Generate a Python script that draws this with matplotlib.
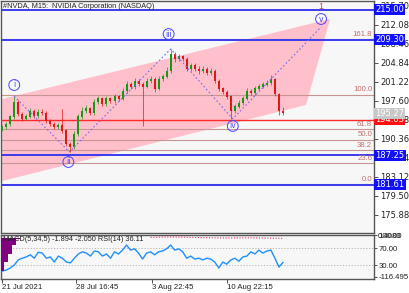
import numpy as np
import matplotlib
matplotlib.use("Agg")
import matplotlib.pyplot as plt
import matplotlib.transforms as mtrans

# M15 bars (one bar per 4 px)
closes = [192.6, 193.2, 194.6, 197.4, 195.1, 194.2, 194.6, 195.7, 194.7, 195.5,
          195.3, 193.8, 193.2, 192.6, 193.0, 191.9, 189.4, 188.8, 191.3, 194.6,
          195.7, 196.1, 195.3, 197.4, 198.0, 197.0, 198.0, 197.6, 198.4, 198.0,
          199.5, 200.8, 200.3, 201.4, 200.8, 200.3, 201.4, 201.8, 199.9, 201.8,
          202.2, 203.3, 206.4, 205.6, 206.0, 205.6, 203.7, 204.3, 203.7, 203.3,
          203.7, 202.9, 203.3, 201.4, 199.9, 199.3, 198.4, 195.7, 196.5, 197.2,
          198.0, 199.5, 199.1, 199.9, 200.3, 200.7, 201.0, 201.8, 198.9, 195.7,
          195.27]
highs = [193.0, 193.6, 195.0, 198.5, 197.8, 195.5, 195.2, 196.2, 196.0, 196.0,
         196.1, 195.6, 194.2, 193.6, 193.5, 196.0, 192.2, 189.8, 191.8, 195.2,
         196.4, 196.8, 196.5, 198.0, 198.6, 198.4, 198.5, 198.4, 198.9, 198.8,
         200.0, 201.4, 201.2, 202.0, 201.8, 201.2, 201.9, 202.3, 202.2, 202.3,
         202.8, 204.0, 207.5, 206.9, 206.6, 206.4, 205.9, 204.9, 204.8, 204.2,
         204.2, 204.0, 203.8, 203.6, 201.8, 200.3, 199.7, 198.8, 197.0, 197.7,
         198.5, 200.0, 199.9, 200.4, 200.8, 201.2, 201.6, 202.6, 202.0, 199.2,
         196.5]
lows = [191.8, 192.2, 192.9, 194.2, 194.8, 193.8, 193.9, 194.3, 194.3, 194.4,
        194.9, 193.4, 192.8, 192.2, 192.3, 191.5, 189.0, 187.9, 188.5, 191.0,
        194.2, 195.3, 195.0, 195.0, 197.0, 196.6, 196.7, 197.2, 197.2, 197.6,
        197.7, 199.2, 199.9, 199.9, 200.4, 192.8, 200.0, 201.0, 199.4, 199.6,
        201.4, 202.0, 203.0, 205.1, 205.2, 205.2, 203.3, 203.4, 203.3, 202.8,
        203.0, 202.5, 202.6, 201.0, 199.5, 198.9, 198.0, 194.2, 195.4, 196.2,
        196.9, 197.8, 198.7, 198.8, 199.6, 200.0, 200.4, 200.7, 198.6, 195.0,
        195.0]
first_open = 192.2

rsi = [16, 18, 23, 30, 42, 46, 49, 54, 46, 60, 58, 46, 49, 37, 51, 46, 37, 35,
       46, 56, 61, 58, 51, 63, 61, 51, 56, 46, 61, 56, 65, 77, 65, 68, 58, 44,
       58, 61, 54, 61, 63, 68, 77, 65, 68, 61, 46, 51, 44, 46, 42, 46, 44, 37,
       23, 37, 32, 42, 46, 39, 49, 51, 61, 56, 65, 58, 63, 65, 46, 25, 36.11]
macd_hist = [-100, -75, -48, -22, -4]
macd_signal = [0.9, 1.1, 1.4, 1.6, 1.8, 2.0, 1.9, 1.7, 1.5, 1.2, 0.9, 0.6,
               0.3, 0.0, -0.2, -0.4, -0.6, -0.7, -0.8, -0.9, -0.9, -0.8, -0.7,
               -0.6, -0.5, -0.5, -0.6, -0.8, -1.0, -1.3, -1.6, -1.8, -1.9, -2.05]
signal_start = 37

price_ticks = [215.70, 212.08, 208.46, 204.84, 201.22, 197.60, 193.98,
               190.36, 186.74, 183.12, 179.50, 175.88]
blue_levels = [215.00, 209.30, 187.25, 181.61]
red_level = 194.03
last_price = 195.27
fib_names = ["161.8", "100.0", "61.8", "50.0", "38.2", "23.6", "0.0"]
fib_prices = [209.37, 198.8, 192.27, 190.25, 188.23, 185.74, 181.7]

waves = ["i", "ii", "iii", "iv", "v"]
wave_x = [3, 16.5, 41.5, 57.5, 79.5]
wave_y = [200.65, 185.98, 210.36, 192.84, 213.22]
path_x = [3, 16.75, 42, 57.5, 79.5]
path_y = [198.5, 187.9, 207.5, 194.2, 211.7]
channel_x = [0, 81.75, 75.75, 0]
channel_y = [197.98, 213.22, 196.84, 182.36]

date_pos = [0, 18.5, 37.25, 56]
date_labels = ["21 Jul 2021", "28 Jul 16:45", "3 Aug 22:45", "10 Aug 22:15"]

W, H = 410, 293
def box(l, t, r, b):
    return [l / W, 1 - b / H, (r - l) / W, (b - t) / H]

small = ["Liberation Sans", "DejaVu Sans"]

fig = plt.figure(figsize=(W / 100, H / 100), dpi=100)
fig.patch.set_facecolor("white")
ax = fig.add_axes(box(1, 1, 374, 233))
ax2 = fig.add_axes(box(1, 235, 374, 279))
for a in (ax, ax2):
    a.set_facecolor("#f7f7f7")
    for s in a.spines.values():
        s.set_color("#555555")
        s.set_linewidth(1.0)
    a.set_xlim(-0.3, 92.7)

ax.set_ylim(172.45, 216.65)

# channel
ax.fill(channel_x, channel_y, color="#ffc0cb", lw=0, zorder=1)

# fib lines
ytr = mtrans.blended_transform_factory(ax.transAxes, ax.transData)
for name, p in zip(fib_names, fib_prices):
    ax.axhline(p, color="#c89494", lw=0.8, zorder=2)
    ax.text(0.995, p + 0.25, name, transform=ytr, ha="right", va="bottom",
            fontsize=5.6, color="#c07070", zorder=6, family=small)

for p in blue_levels:
    ax.axhline(p, color="#3b3bef", lw=1.4, zorder=3)
ax.axhline(red_level, color="#ff2a2a", lw=1.0, zorder=3)

# candles
x = np.arange(len(closes))
opens = np.r_[first_open, closes[:-1]]
closes_a = np.array(closes)
up = closes_a >= opens
cols = np.where(up, "#129a12", "#e01818")
ax.vlines(x, lows, highs, colors=cols, lw=0.5, zorder=4)
ax.bar(x, np.abs(closes_a - opens) + 0.08, bottom=np.minimum(opens, closes_a),
       width=0.5, color=cols, zorder=5)

# wave path and labels
ax.plot(path_x, path_y, color="#7a6cf0", lw=0.8, ls=(0, (1.5, 2)), zorder=5)
for name, wx, wy in zip(waves, wave_x, wave_y):
    ax.text(wx, wy, name, ha="center", va="center", fontsize=5.5,
            color="#4646ff", zorder=7,
            bbox=dict(boxstyle="circle,pad=0.12", fc="none", ec="#4646ff", lw=0.7))
ax.text(wave_x[-1], 215.6, "1", ha="center", va="center", fontsize=6.5,
        color="#c05050", family=small)

# price axis
ax.yaxis.tick_right()
ax.set_yticks(price_ticks)
ax.set_yticklabels([f"{t:.2f}" for t in price_ticks])
ax.tick_params(axis="y", length=3, width=0.6, color="#333333", labelsize=6,
               pad=1.5, labelcolor="#222222")
ax.tick_params(axis="x", length=0, labelbottom=False)

def tag(a, p, txt, fc, tc="white"):
    a.text(1.004, p, txt, transform=mtrans.blended_transform_factory(a.transAxes, a.transData),
           ha="left", va="center", fontsize=6, color=tc, zorder=10, clip_on=False,
           bbox=dict(boxstyle="square,pad=0.12", fc=fc, ec="none"))

for p in blue_levels:
    tag(ax, p, f"{p:.2f}", "#1010ff")
tag(ax, red_level, f"{red_level:.2f}", "#ff1010")
tag(ax, last_price, f"{last_price:.2f}", "#c8c8c8")

fig.text(3 / W, 1 - 6 / H, "#NVDA, M15:  NVIDIA Corporation (NASDAQ)",
         ha="left", va="center", fontsize=5.3, color="#222222", family=small)

# indicator panel
ax2.set_ylim(-2.9, 100.6)
ax2.axhline(70, color="#b0b0b0", lw=0.6, ls=(0, (1.5, 2)))
ax2.axhline(30, color="#b0b0b0", lw=0.6, ls=(0, (1.5, 2)))
ax2.plot(x, rsi, color="#1e90ff", lw=1.0, zorder=4)
axm = ax2.twinx()
axm.set_ylim(-125, 8)
axm.bar(np.arange(len(macd_hist)), macd_hist, width=1.0, color="#800080", zorder=3)
axm.plot(np.arange(signal_start, signal_start + len(macd_signal)), macd_signal,
         color="#e03060", lw=0.8, ls=(0, (1, 1.5)))
axm.set_yticks([])
for s in axm.spines.values():
    s.set_visible(False)
axm.set_xlim(-0.3, 92.7)

ax2.yaxis.tick_right()
ax2.set_yticks([100, 70, 30, 2])
ax2.set_yticklabels(["100.00", "70.00", "30.00", "-116.495"], family=small)
ax2.tick_params(axis="y", length=2.5, width=0.6, color="#333333", labelsize=5.6,
                pad=0.8, labelcolor="#222222")
ax2.text(1.01, 97, "0.4083",
         transform=mtrans.blended_transform_factory(ax2.transAxes, ax2.transData),
         ha="left", va="center", fontsize=5.6, color="#222222", clip_on=False,
         family=small)
fig.text(3 / W, 1 - 239.5 / H, "MACD(5,34,5) -1.894 -2.050 RSI(14) 36.11",
         ha="left", va="center", fontsize=5.3, color="#222222", family=small,
         zorder=20)

ax2.set_xticks(date_pos)
ax2.set_xticklabels(date_labels, family=small)
for lab in ax2.get_xticklabels():
    lab.set_horizontalalignment("left")
ax2.tick_params(axis="x", length=3, width=0.6, color="#333333", labelsize=5.6,
                pad=0.5, labelcolor="#222222")

fig.savefig("out.png", dpi=100)
